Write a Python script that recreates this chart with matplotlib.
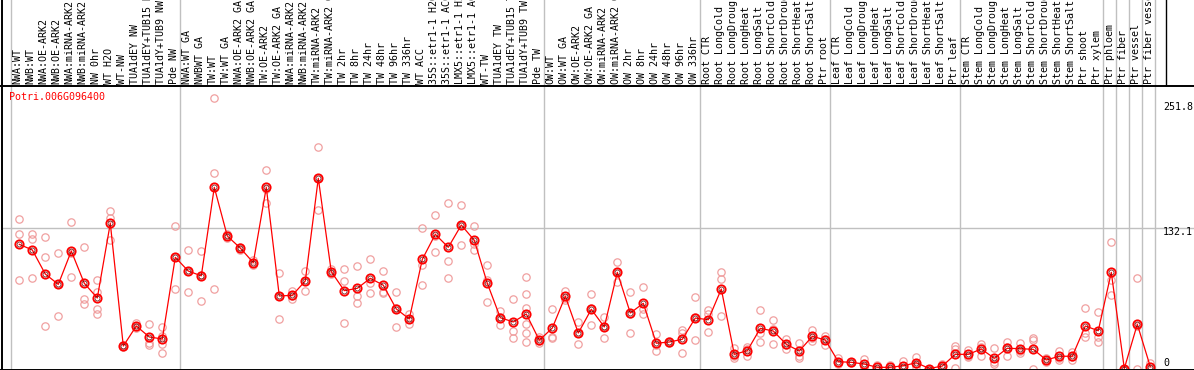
import matplotlib
matplotlib.use("Agg")
import matplotlib.pyplot as plt
from matplotlib.lines import Line2D

labels = [
    "NWA:WT", "NWB:WT", "NWA:OE-ARK2", "NWB:OE-ARK2", "NWA:miRNA-ARK2", "NWB:miRNA-ARK2",
    "NW 0hr", "WT H2O", "WT-NW", "TUA1dEY NW", "TUA1dEY+TUB15 NW", "TUA1dY+TUB9 NW", "Pde NW",
    "NWA:WT GA", "NWBWT GA", "TW:WT", "TW:WT GA", "NWA:OE-ARK2 GA", "NWB:OE-ARK2 GA",
    "TW:OE-ARK2", "TW:OE-ARK2 GA", "NWA:miRNA-ARK2", "NWB:miRNA-ARK2", "TW:miRNA-ARK2",
    "TW:miRNA-ARK2 GA", "TW 2hr", "TW 8hr", "TW 24hr", "TW 48hr", "TW 96hr", "TW 336hr",
    "WT ACC", "35S::etr1-1 H2O", "35S::etr1-1 ACC", "LMX5::etr1-1 H2O", "LMX5::etr1-1 ACC",
    "WT-TW", "TUA1dEY TW", "TUA1dEY+TUB15 TW", "TUA1dY+TUB9 TW", "Pde TW",
    "OW:WT", "OW:WT GA", "OW:OE-ARK2", "OW:OE-ARK2 GA", "OW:miRNA-ARK2", "OW:miRNA-ARK2 GA",
    "OW 2hr", "OW 8hr", "OW 24hr", "OW 48hr", "OW 96hr", "OW 336hr",
    "Root CTR", "Root LongCold", "Root LongDrought", "Root LongHeat", "Root LongSalt",
    "Root ShortCold", "Root ShortDrought", "Root ShortHeat", "Root ShortSalt", "Ptr root",
    "Leaf CTR", "Leaf LongCold", "Leaf LongDrought", "Leaf LongHeat", "Leaf LongSalt",
    "Leaf ShortCold", "Leaf ShortDrought", "Leaf ShortHeat", "Leaf ShortSalt", "Ptr leaf",
    "Stem CTR", "Stem LongCold", "Stem LongDrought", "Stem LongHeat", "Stem LongSalt",
    "Stem ShortCold", "Stem ShortDrought", "Stem ShortHeat", "Stem ShortSalt", "Ptr shoot",
    "Ptr xylem", "Ptr phloem", "Ptr fiber", "Ptr vessel", "Ptr fiber vessel",
]

means = [
    116.6, 111.3, 88.7, 79.0, 110.3, 80.0, 66.2, 136.3, 21.1, 39.9,
    29.6, 27.7, 104.4, 91.5, 87.0, 170.1, 124.4, 113.1, 99.4, 170.1,
    68.1, 68.7, 82.2, 178.6, 90.9, 73.1, 75.3, 84.7, 78.2, 55.9,
    46.5, 102.5, 126.0, 113.8, 134.7, 120.4, 80.0, 47.7, 43.7, 51.2,
    26.5, 38.0, 67.8, 33.3, 55.6, 39.0, 90.3, 52.1, 61.2, 23.7,
    24.9, 27.4, 47.4, 45.8, 74.6, 13.3, 16.7, 37.7, 35.2, 22.7,
    16.4, 30.2, 26.8, 6.4, 5.8, 4.2, 1.1, 1.1, 2.6, 5.4,
    0.0, 2.3, 13.3, 13.3, 18.3, 9.6, 19.0, 18.6, 18.0, 8.0,
    11.5, 11.5, 39.9, 35.5, 90.3, 0.0, 41.5, 1.7,
]

reps = [
    [140.1, 126.0, 83.1], [126.6, 121.9, 84.7], [123.2, 104.4, 39.9], [108.2, 79.5, 49.3],
    [137.3, 108.0, 85.6], [113.8, 65.3, 60.3], [83.1, 72.1, 55.9, 51.2], [147.6, 141.0, 120.7],
    [22.5, 21.0, 19.8], [43.0, 39.0, 37.7], [41.5, 24.2, 21.8], [39.0, 30.5, 23.0, 14.3],
    [133.8, 104.8, 74.6], [111.0, 91.7, 71.8], [110.0, 87.5, 63.4], [254.3, 183.3, 74.4],
    [126.0, 124.4, 122.8], [114.5, 113.1, 111.7], [102.0, 99.0, 97.2], [186.4, 168.8, 155.1],
    [90.0, 68.1, 46.2], [72.8, 68.0, 65.5], [91.5, 82.0, 73.1], [207.7, 179.3, 148.8],
    [93.0, 91.0, 88.7], [93.1, 82.2, 42.4], [96.2, 68.1, 61.2], [102.5, 80.0, 70.6],
    [91.5, 71.5, 71.3], [71.8, 56.7, 39.2], [51.2, 46.8, 41.5], [131.6, 97.2, 78.1],
    [144.1, 124.5, 109.4], [155.1, 100.9, 84.7], [153.5, 134.6, 116.0], [133.8, 116.6, 111.0],
    [96.9, 83.1, 62.4], [54.0, 48.3, 40.8], [65.3, 35.2, 28.4], [85.6, 70.0, 56.5, 41.8, 33.0, 25.2],
    [29.9, 26.0, 23.7], [55.9, 29.3, 28.8], [72.8, 66.0, 64.6], [43.9, 33.3, 22.7],
    [69.7, 56.5, 40.6], [48.4, 39.6, 28.9], [99.7, 90.3, 80.9], [71.5, 51.5, 33.3],
    [76.5, 56.2, 50.9], [32.1, 22.3, 16.7], [26.2, 24.9, 23.6], [36.2, 33.0, 14.6],
    [66.9, 48.8, 26.5], [54.9, 51.5, 34.3], [90.3, 84.3, 49.0], [19.0, 11.3, 9.6],
    [19.9, 18.5, 11.7], [54.9, 33.4, 24.9], [45.3, 37.3, 23.0], [27.7, 21.8, 18.6],
    [23.7, 11.7, 9.6], [36.2, 28.4, 26.1], [30.5, 27.7, 22.1], [9.6, 5.0, 4.6],
    [6.5, 6.0, 5.0], [9.2, 2.0, 1.5], [3.3, 0.0, 0.0], [3.3, 0.0, 0.0],
    [7.5, 0.3, 0.0], [10.5, 4.0, 1.7], [0.0, 0.0, 0.0], [4.2, 1.5, 1.2],
    [21.1, 18.6, 0.2], [17.4, 11.7, 10.8], [23.0, 20.5, 11.7], [19.0, 6.4, 4.2],
    [24.9, 20.0, 12.0], [24.2, 16.5, 15.0], [28.6, 26.8, 0.0], [9.9, 8.3, 5.8],
    [16.2, 10.3, 8.0], [15.8, 10.7, 8.0], [56.5, 33.0, 29.3], [52.8, 29.3, 24.6],
    [118.5, 83.1, 68.7], [0.0, 0.0, 0.0], [84.7, 39.8, 0.0], [5.4, 0.0, 0.0],
]

group_ends = [-1, 12, 40, 52, 62, 72, 83, 84, 85, 86, 87]
gene_name = "Potri.006G096400"
ytick_values = [251.8, 132.1, 0]
ytick_labels = ["251.8", "132.1", "0"]

W, H = 1194, 370
fig = plt.figure(figsize=(W / 100, H / 100), dpi=100)
FONT = "DejaVu Sans Mono"
FS = 7.2

# axes covering the plot area (pixels x 2..1194, y 85..369)
top_px, bot_px = 85, 369
ax = fig.add_axes([2 / W, (H - bot_px) / H, (W - 2) / W, (bot_px - top_px) / H])
x0_px, dx_px = 19.3, 13.0
ax.set_xlim((2 - x0_px) / dx_px, (W - x0_px) / dx_px)
zero_px, scale = 368.5, 1.065
ax.set_ylim((zero_px - bot_px) / scale, (zero_px - top_px) / scale)
ax.set_xticks([])
ax.set_yticks([])
for s in ["right", "top", "bottom", "left"]:
    ax.spines[s].set_visible(False)

gray = "#c0c0c0"
ext = 1 + top_px / (bot_px - top_px)
for g in group_ends:
    ax.plot([g + 5 / 13, g + 5 / 13], [0, ext + 0.05], color=gray, lw=1.0,
            transform=ax.get_xaxis_transform(), clip_on=False, zorder=1)
ax.axhline(ytick_values[1], color=gray, lw=1.0, zorder=1)

# replicates
rep_color = "#f0a0a0"
for i, vals in enumerate(reps):
    ax.plot([i] * len(vals), vals, "o", ms=5.3, mfc="none", mec=rep_color, mew=0.9, zorder=2)

xs = list(range(len(means)))
ax.plot(xs, means, "-", color="#ff0000", lw=0.9, zorder=3)
ax.plot(xs, means, "o", ms=6.0, mfc="none", mec="#ff0000", mew=1.3, zorder=4)
ax.plot(xs, means, "o", ms=3.6, mfc="none", mec="#600000", mew=0.5, zorder=5)

# header labels
for i, lab in enumerate(labels):
    ax.text(i - 0.13, 1 + 1.0 / (bot_px - top_px), lab, rotation=90, ha="center", va="bottom",
            transform=ax.get_xaxis_transform(), clip_on=False, family=FONT, fontsize=FS,
            color="black", rotation_mode="default")

# frame lines in figure pixels
def fline(xp, yp, **kw):
    fig.add_artist(Line2D([x / W for x in xp], [1 - y / H for y in yp],
                          transform=fig.transFigure, **kw))

fline([0, W], [top_px + 0.5, top_px + 0.5], color="black", lw=1.4)
fline([0, W], [bot_px + 0.5, bot_px + 0.5], color="black", lw=1.4)
fline([1.5, 1.5], [0, H], color="black", lw=1.4)
fline([1166, 1166], [0, top_px], color="black", lw=1.0)

fig.text(9.3 / W, 1 - 97 / H, gene_name, color="#ff0000", family=FONT, fontsize=FS,
         ha="left", va="center")
for v, lab, yc in zip(ytick_values, ytick_labels, [107, 232, 363]):
    fig.text(1163 / W, 1 - yc / H, lab, color="black", family=FONT, fontsize=FS,
             ha="left", va="center")

fig.savefig("out.png", dpi=100)
